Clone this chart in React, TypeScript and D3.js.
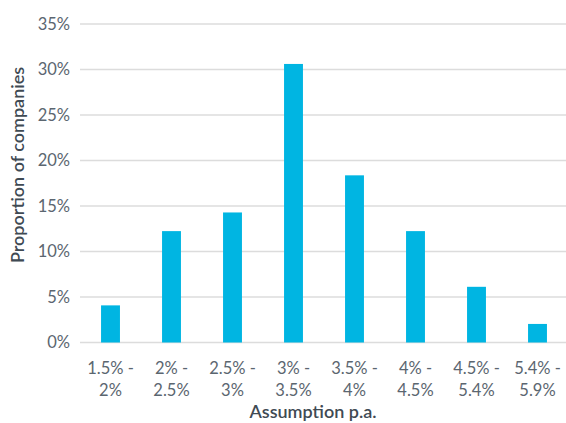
import React from "react";
import * as d3 from "d3";

const categories: string[][] = [
  ["1.5% -", "2%"],
  ["2% -", "2.5%"],
  ["2.5% -", "3%"],
  ["3% -", "3.5%"],
  ["3.5% -", "4%"],
  ["4% -", "4.5%"],
  ["4.5% -", "5.4%"],
  ["5.4% -", "5.9%"],
];
const values: number[] = [4.08, 12.24, 14.29, 30.61, 18.37, 12.24, 6.12, 2.04];
const yTicks: number[] = [0, 5, 10, 15, 20, 25, 30, 35];

const W = 566;
const H = 423;
const FONT = "Lato, 'Noto Sans', sans-serif";
const TEXT = "#5b6670";

export default function App() {
  const x = d3
    .scaleBand<number>()
    .domain(d3.range(categories.length))
    .range([80, 568])
    .paddingInner(0.69)
    .paddingOuter(0.345);
  const y = d3.scaleLinear().domain([0, 35]).range([342.5, 24]);

  return (
    <svg
      width={W}
      height={H}
      style={{ position: "absolute", left: 0, top: 0 }}
      fontFamily={FONT}
    >
      <rect width={W} height={H} fill="#fff" />
      {yTicks.map((t) => (
        <g key={t}>
          <line x1={80} x2={W} y1={y(t)} y2={y(t)} stroke="#dcdcdc" strokeWidth={1.3} />
          <text
            x={70}
            y={y(t)}
            dy="0.35em"
            textAnchor="end"
            fontSize={16.5}
            fill={TEXT}
          >
            {t}%
          </text>
        </g>
      ))}
      {values.map((v, i) => (
        <rect
          key={i}
          x={x(i)}
          y={y(v)}
          width={x.bandwidth()}
          height={y(0) - y(v)}
          fill="#00b5e2"
        />
      ))}
      {categories.map((c, i) => {
        const cx = (x(i) as number) + x.bandwidth() / 2;
        return (
          <text key={i} textAnchor="middle" fontSize={16.5} fill={TEXT}>
            <tspan x={cx} y={374}>{c[0]}</tspan>
            <tspan x={cx} y={396}>{c[1]}</tspan>
          </text>
        );
      })}
      <text x={313} y={418} textAnchor="middle" fontSize={18} fontWeight={600} fill="#3f4a53">
        Assumption p.a.
      </text>
      <text
        transform={`translate(24,165) rotate(-90)`}
        textAnchor="middle"
        fontSize={18}
        fontWeight={600}
        fill="#3f4a53"
      >
        Proportion of companies
      </text>
    </svg>
  );
}
